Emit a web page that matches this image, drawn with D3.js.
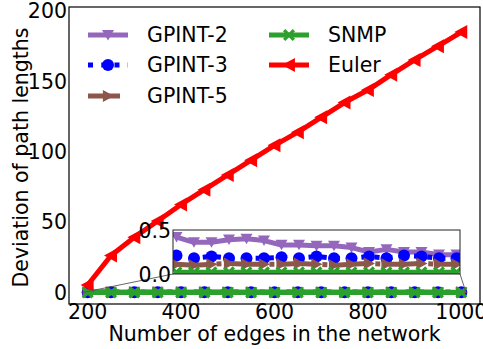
<!DOCTYPE html>
<html>
<head>
<meta charset="utf-8">
<script src="https://cdn.jsdelivr.net/npm/d3@7"></script>
<style>
  html, body { margin: 0; padding: 0; background: #fff; }
  svg { display: block; font-family: "DejaVu Sans", sans-serif; }
</style>
</head>
<body>
<svg id="chart" width="483" height="349"></svg>
<script>
// Network sizes (number of edges)
const edges = [200, 250, 300, 350, 400, 450, 500, 550, 600, 650, 700, 750, 800, 850, 900, 950, 1000];

// Deviation of path lengths for each method
const gpint2 = [0.42, 0.36, 0.36, 0.39, 0.40, 0.38, 0.33, 0.33, 0.32, 0.32, 0.30, 0.25, 0.28, 0.25, 0.25, 0.22, 0.22];
const gpint3 = [0.21, 0.18, 0.20, 0.18, 0.18, 0.18, 0.19, 0.18, 0.20, 0.18, 0.18, 0.20, 0.18, 0.21, 0.20, 0.18, 0.18];
const gpint5 = [0.11, 0.10, 0.11, 0.12, 0.11, 0.11, 0.11, 0.12, 0.11, 0.10, 0.11, 0.12, 0.11, 0.11, 0.12, 0.11, 0.11];
const snmp   = [0.02, 0.02, 0.02, 0.02, 0.02, 0.02, 0.02, 0.02, 0.02, 0.02, 0.02, 0.02, 0.02, 0.02, 0.02, 0.02, 0.02];
const euler  = [5.3, 26.3, 39.2, 50.8, 62.5, 73.0, 83.5, 94.0, 104.5, 113.9, 124.4, 134.9, 143.8, 154.7, 165.2, 175.0, 185.0];

const yTicks = [0, 50, 100, 150, 200];
const xTicks = [200, 400, 600, 800, 1000];
const insetYTicks = [0.0, 0.5];

const series = [
  { name: "GPINT-2", values: gpint2, color: "#9467bd", dash: null,         marker: "v" },
  { name: "GPINT-3", values: gpint3, color: "#0000ff", dash: "5,8.25",     marker: "o" },
  { name: "GPINT-5", values: gpint5, color: "#8c564b", dash: "32,8,5,8",   marker: ">" },
  { name: "SNMP",    values: snmp,   color: "#2ca02c", dash: null,         marker: "X" },
  { name: "Euler",   values: euler,  color: "#ff0000", dash: null,         marker: "<" }
];

const svg = d3.select("#chart");
const FONT = 20.5;
const LW = 5;

// Main axes frame
const M = { left: 69, right: 480, top: 7, bottom: 304 };
const x = d3.scaleLinear().domain([160, 1040]).range([M.left, M.right]);
const y = d3.scaleLinear().domain([-8.2, 202.8]).range([M.bottom, M.top]);

// Marker shapes, centred on the origin
function markerPath(type, s) {
  const h = s / 2;
  switch (type) {
    case "v": return `M${-h},${-h * 0.85}L${h},${-h * 0.85}L0,${h * 0.9}Z`;
    case "<": return `M${-h},0L${h * 0.85},${-h}L${h * 0.85},${h}Z`;
    case ">": return `M${h},0L${-h * 0.85},${-h}L${-h * 0.85},${h}Z`;
    case "o": return d3.symbol(d3.symbolCircle, Math.PI * h * h)();
    case "X": {
      const a = h, w = h * 0.38;
      return `M${-a + w},${-a}L0,${-w}L${a - w},${-a}L${a},${-a + w}L${w},0L${a},${a - w}L${a - w},${a}L0,${w}L${-a + w},${a}L${-a},${a - w}L${-w},0L${-a},${-a + w}Z`;
    }
  }
}
const markerSize = { v: 12, o: 12, ">": 12, X: 12, "<": 14 };

function drawSeries(g, xs, ys, list) {
  list.forEach(s => {
    const pts = edges.map((e, i) => [xs(e), ys(s.values[i])]);
    g.append("path")
      .attr("d", d3.line()(pts))
      .attr("fill", "none")
      .attr("stroke", s.color)
      .attr("stroke-width", LW)
      .attr("stroke-dasharray", s.dash)
      .attr("stroke-linejoin", "round");
    g.selectAll(null).data(pts).enter().append("path")
      .attr("d", markerPath(s.marker, markerSize[s.marker]))
      .attr("transform", d => `translate(${d[0]},${d[1]})`)
      .attr("fill", s.color);
  });
}

// Clip for main plotting area
svg.append("clipPath").attr("id", "clipMain")
  .append("rect").attr("x", M.left).attr("y", M.top)
  .attr("width", M.right - M.left).attr("height", M.bottom - M.top);

const main = svg.append("g").attr("clip-path", "url(#clipMain)");
drawSeries(main, x, y, series);

// Main frame
svg.append("rect")
  .attr("x", M.left).attr("y", M.top)
  .attr("width", M.right - M.left).attr("height", M.bottom - M.top)
  .attr("fill", "none").attr("stroke", "#000").attr("stroke-width", 1.2);

// Tick labels
svg.append("g").selectAll("text").data(yTicks).enter().append("text")
  .attr("x", M.left - 2).attr("y", d => y(d))
  .attr("dy", "0.36em").attr("text-anchor", "end")
  .attr("font-size", FONT).text(d => d);

svg.append("g").selectAll("text").data(xTicks).enter().append("text")
  .attr("x", d => x(d)).attr("y", 319)
  .attr("text-anchor", "middle")
  .attr("font-size", FONT).text(d => d);

// Axis titles
svg.append("text")
  .attr("x", (M.left + M.right) / 2).attr("y", 341)
  .attr("text-anchor", "middle").attr("font-size", FONT)
  .text("Number of edges in the network");

svg.append("text")
  .attr("transform", `translate(28,${(M.top + M.bottom) / 2 + 2}) rotate(-90)`)
  .attr("text-anchor", "middle").attr("font-size", FONT)
  .text("Deviation of path lengths");

// Zoomed inset of the four low series
const I = { left: 173, right: 460, top: 230, bottom: 274 };
const xi = d3.scaleLinear().domain([190, 1010]).range([I.left, I.right]);
const yi = d3.scaleLinear().domain([0, 0.5]).range([I.bottom, I.top]);

// Connector lines from the inset to the zoomed region
svg.append("g").attr("stroke", "#555").attr("stroke-width", 0.9).attr("fill", "none")
  .selectAll("line").data([
    [I.left, I.bottom, x(190), y(0)],
    [I.right, I.bottom, x(1010), y(0)]
  ]).enter().append("line")
  .attr("x1", d => d[0]).attr("y1", d => d[1])
  .attr("x2", d => d[2]).attr("y2", d => d[3]);

svg.append("rect")
  .attr("x", I.left).attr("y", I.top)
  .attr("width", I.right - I.left).attr("height", I.bottom - I.top)
  .attr("fill", "#fff");

svg.append("clipPath").attr("id", "clipInset")
  .append("rect").attr("x", I.left).attr("y", I.top)
  .attr("width", I.right - I.left).attr("height", I.bottom - I.top);

const inset = svg.append("g").attr("clip-path", "url(#clipInset)");
drawSeries(inset, xi, yi, series);

svg.append("rect")
  .attr("x", I.left).attr("y", I.top)
  .attr("width", I.right - I.left).attr("height", I.bottom - I.top)
  .attr("fill", "none").attr("stroke", "#222").attr("stroke-width", 1);

svg.append("g").selectAll("text").data(insetYTicks).enter().append("text")
  .attr("x", I.left - 2).attr("y", d => yi(d) + 1)
  .attr("dy", "0.36em").attr("text-anchor", "end")
  .attr("font-size", FONT).text(d => d.toFixed(1));

// Legend (two columns)
const legendPos = [
  [88, 35], [88, 65], [88, 96],
  [269, 35], [269, 65]
];
const leg = svg.append("g");
series.forEach((s, i) => {
  const [lx, ly] = legendPos[i];
  const g = leg.append("g").attr("transform", `translate(${lx},${ly})`);
  g.append("line")
    .attr("x1", 0).attr("x2", 40).attr("y1", 0).attr("y2", 0)
    .attr("stroke", s.color).attr("stroke-width", LW)
    .attr("stroke-dasharray", s.dash);
  g.append("path")
    .attr("d", markerPath(s.marker, markerSize[s.marker]))
    .attr("transform", "translate(20,0)")
    .attr("fill", s.color);
  g.append("text")
    .attr("x", 59).attr("y", 0).attr("dy", "0.36em")
    .attr("font-size", FONT).text(s.name);
});
</script>
</body>
</html>
